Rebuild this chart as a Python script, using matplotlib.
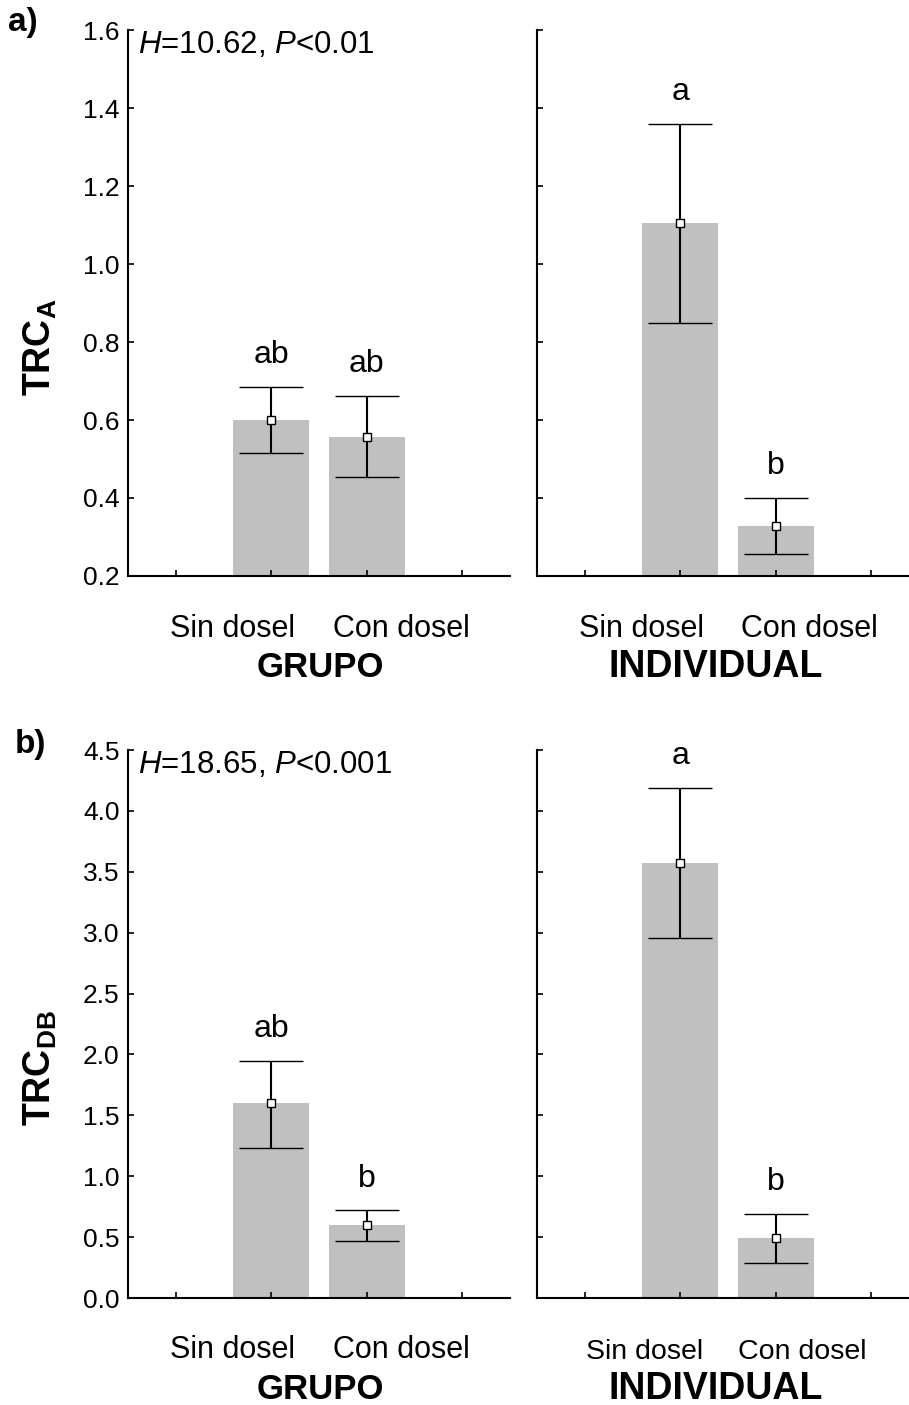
import matplotlib.pyplot as plt

plt.rcParams['font.family'] = ['Liberation Sans', 'DejaVu Sans']
plt.rcParams['mathtext.fontset'] = 'custom'
plt.rcParams['mathtext.rm'] = 'Liberation Sans'
plt.rcParams['mathtext.it'] = 'Liberation Sans:italic'
plt.rcParams['mathtext.bf'] = 'Liberation Sans:bold'

# data
categories = ['Sin dosel', 'Con dosel']
groups = ['GRUPO', 'INDIVIDUAL']

# panel a) TRC_A
a_mean = {'GRUPO': [0.600, 0.557], 'INDIVIDUAL': [1.104, 0.328]}
a_low = {'GRUPO': [0.515, 0.454], 'INDIVIDUAL': [0.849, 0.256]}
a_high = {'GRUPO': [0.685, 0.662], 'INDIVIDUAL': [1.359, 0.400]}
a_letters = {'GRUPO': ['ab', 'ab'], 'INDIVIDUAL': ['a', 'b']}

# panel b) TRC_DB
b_mean = {'GRUPO': [1.60, 0.60], 'INDIVIDUAL': [3.57, 0.49]}
b_low = {'GRUPO': [1.23, 0.47], 'INDIVIDUAL': [2.96, 0.29]}
b_high = {'GRUPO': [1.95, 0.72], 'INDIVIDUAL': [4.19, 0.69]}
b_letters = {'GRUPO': ['ab', 'b'], 'INDIVIDUAL': ['a', 'b']}

a_ticks = [0.2, 0.4, 0.6, 0.8, 1.0, 1.2, 1.4, 1.6]
b_ticks = [0.0, 0.5, 1.0, 1.5, 2.0, 2.5, 3.0, 3.5, 4.0, 4.5]

W, H = 909, 1405
fig = plt.figure(figsize=(W / 100, H / 100), dpi=100)


def px_axes(x0, top, w, h):
    return fig.add_axes([x0 / W, (H - top - h) / H, w / W, h / H])


def draw(ax, mean, low, high, letters, ticks, show_labels, group, group_x,
         catsize=22, groupsize=25, cat_off=-44, group_off=-73, label_x=(0.59, 2.36)):
    x = [1, 2]
    ax.bar(x, mean, width=0.8, color='#c0c0c0', zorder=1)
    yerr = [[m - l for m, l in zip(mean, low)], [h - m for m, h in zip(mean, high)]]
    ax.errorbar(x, mean, yerr=yerr, fmt='s', color='black', ecolor='black',
                elinewidth=1.5, capsize=23, capthick=1.8,
                markerfacecolor='white', markeredgecolor='black',
                markersize=6, markeredgewidth=1, zorder=3)
    for xi, hi, lab in zip(x, high, letters):
        ax.annotate(lab, (xi, hi), xytext=(0, 17), textcoords='offset points',
                    ha='center', va='baseline', fontsize=23)
    ax.set_xlim(-0.5, 3.5)
    ax.set_ylim(ticks[0], ticks[-1])
    ax.set_yticks(ticks)
    ax.set_xticks([0, 1, 2, 3])
    ax.set_xticklabels([])
    # category names sit a bit outside of the bars, like in the original
    for lx, cat in zip(label_x, categories):
        ax.annotate(cat, (lx, 0), xycoords=('data', 'axes fraction'),
                    xytext=(0, cat_off), textcoords='offset points',
                    ha='center', va='baseline', fontsize=catsize)
    ax.annotate(group, (group_x, 0), xycoords=('data', 'axes fraction'),
                xytext=(0, group_off), textcoords='offset points',
                ha='center', va='baseline', fontsize=groupsize, fontweight='bold')
    if show_labels:
        ax.set_yticklabels([f'{t:.1f}' for t in ticks], fontsize=19)
    else:
        ax.set_yticklabels([])
    ax.spines['top'].set_visible(False)
    ax.spines['right'].set_visible(False)
    ax.spines['left'].set_linewidth(1.5)
    ax.spines['bottom'].set_linewidth(1.5)
    ax.tick_params(direction='in', length=4, width=1.2)
    ax.tick_params(axis='y', pad=6)


# row a
ax1 = px_axes(128, 30, 382, 546)
draw(ax1, a_mean['GRUPO'], a_low['GRUPO'], a_high['GRUPO'], a_letters['GRUPO'],
     a_ticks, True, 'GRUPO', 1.51)
ax2 = px_axes(537, 30, 382, 546)
draw(ax2, a_mean['INDIVIDUAL'], a_low['INDIVIDUAL'], a_high['INDIVIDUAL'], a_letters['INDIVIDUAL'],
     a_ticks, False, 'INDIVIDUAL', 1.37, groupsize=27, label_x=(0.59, 2.35))

# row b
ax3 = px_axes(128, 750, 382, 548)
draw(ax3, b_mean['GRUPO'], b_low['GRUPO'], b_high['GRUPO'], b_letters['GRUPO'],
     b_ticks, True, 'GRUPO', 1.51, cat_off=-43, group_off=-73)
ax4 = px_axes(537, 750, 382, 548)
draw(ax4, b_mean['INDIVIDUAL'], b_low['INDIVIDUAL'], b_high['INDIVIDUAL'], b_letters['INDIVIDUAL'],
     b_ticks, False, 'INDIVIDUAL', 1.37, catsize=20.5, groupsize=27, cat_off=-44, group_off=-73,
     label_x=(0.63, 2.28))

ax1.set_ylabel(r'$\mathbf{TRC_A}$', fontsize=27)
ax3.set_ylabel(r'$\mathbf{TRC_{DB}}$', fontsize=27)
ax1.yaxis.set_label_coords(-0.18, 0.42)
ax3.yaxis.set_label_coords(-0.18, 0.42)

ax1.text(0.025, 1.0, r'$\mathit{H}$=10.62, $\mathit{P}$<0.01', transform=ax1.transAxes,
         fontsize=22.5, va='top', ha='left')
ax3.text(0.025, 1.0, r'$\mathit{H}$=18.65, $\mathit{P}$<0.001', transform=ax3.transAxes,
         fontsize=22.5, va='top', ha='left')

fig.text(8 / W, 1 - 22 / H, 'a)', fontsize=24, fontweight='bold', va='center')
fig.text(15 / W, 1 - 745 / H, 'b)', fontsize=24, fontweight='bold', va='center')

fig.savefig('out.png', dpi=100)
